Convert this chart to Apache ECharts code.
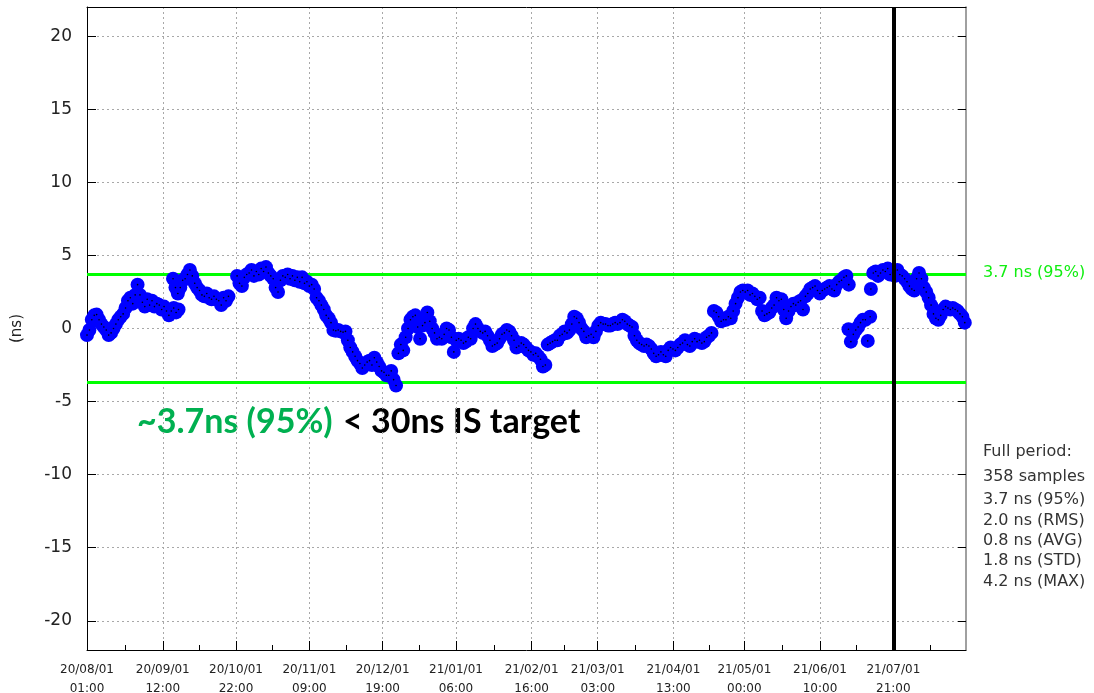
<!DOCTYPE html>
<html>
<head>
<meta charset="utf-8">
<script src="https://cdn.jsdelivr.net/npm/echarts@6/dist/echarts.min.js"></script>
<style>html,body{margin:0;padding:0;background:#fff}#c{width:1094px;height:693px}</style>
</head>
<body>
<div id="c"></div>
<script>
// ---- data (values in ns) ----
const X_MIN = Date.UTC(2020, 7, 1, 1);
const X_MAX = Date.UTC(2021, 7, 1, 1);
const DAY_MS = 86400000;
const tickTimes = ['2020-08-01T01:00Z','2020-09-01T12:00Z','2020-10-01T22:00Z','2020-11-01T09:00Z','2020-12-01T19:00Z','2021-01-01T06:00Z','2021-02-01T16:00Z','2021-03-01T03:00Z','2021-04-01T13:00Z','2021-05-01T00:00Z','2021-06-01T10:00Z','2021-07-01T21:00Z'];
const tickLabels = ['20/08/01\n01:00','20/09/01\n12:00','20/10/01\n22:00','20/11/01\n09:00','20/12/01\n19:00','21/01/01\n06:00','21/02/01\n16:00','21/03/01\n03:00','21/04/01\n13:00','21/05/01\n00:00','21/06/01\n10:00','21/07/01\n21:00'];
const yTicks = [-20, -15, -10, -5, 0, 5, 10, 15, 20];
const p95 = 3.7;
const markerTime = '2021-07-01T21:00Z';
const statLines = ['Full period:', '358 samples', '3.7 ns (95%)', '2.0 ns (RMS)', '0.8 ns (AVG)', '1.8 ns (STD)', '4.2 ns (MAX)'];

// segments of roughly daily samples: start (days after X_MIN) and values
const segStartDays = [0, 35.73, 62.32, 316.2, 325.5];
const segA = [-0.45,-0.1,0.6,0.9,0.95,0.6,0.3,0.1,-0.1,-0.45,-0.3,0.0,0.3,0.6,0.8,1.0,1.4,1.9,2.1,1.7,2.3,3.0,2.3,1.8,1.5,2.0,1.6,1.9,1.5,1.7,1.6,1.3,1.5,1.2,0.9,1.2,1.4,1.1,1.3];
const segB = [3.4,2.8,2.4,2.8,3.3,3.4,3.7,4.0,3.6,3.1,2.8,2.6,2.3,2.2,2.4,2.1,2.0,2.2,2.0,1.9,1.6,2.1,1.9,2.2];
const segC = [3.6,3.1,2.9,3.5,3.7,3.8,4.0,3.6,3.9,3.7,
4.1,3.9,4.2,3.8,3.6,3.4,2.8,2.5,3.3,3.6,
3.5,3.7,3.4,3.6,3.3,3.5,3.2,3.5,3.1,3.2,
2.9,3.0,2.7,2.1,1.9,1.6,1.3,0.9,0.7,0.4,
-0.1,-0.15,-0.1,-0.2,-0.25,-0.2,-0.8,-1.3,-1.6,-1.9,
-2.2,-2.4,-2.7,-2.5,-2.3,-2.2,-2.5,-2.0,-2.3,-2.6,
-2.9,-3.0,-3.2,-3.2,-2.9,-3.5,-3.9,-1.7,-1.1,-1.5,
-0.6,0.0,0.6,0.8,0.9,0.1,-0.7,0.2,0.4,1.1,
0.5,0.0,-0.3,-0.7,-0.6,-0.7,-0.4,0.0,-0.1,-0.6,
-1.6,-0.8,-0.7,-0.8,-1.0,-0.9,-0.6,-0.7,0.0,0.3,
0.0,-0.2,-0.3,-0.2,-0.5,-0.8,-1.2,-1.1,-1.0,-0.7,
-0.4,-0.3,-0.1,-0.2,-0.5,-0.8,-1.3,-1.2,-1.0,-1.1,
-1.3,-1.5,-1.6,-1.8,-1.7,-1.9,-2.1,-2.6,-2.5,-1.1,
-1.0,-0.9,-0.8,-0.8,-0.5,-0.4,-0.2,-0.3,-0.1,0.3,
0.8,0.7,0.4,0.0,-0.2,-0.6,-0.5,-0.4,-0.6,-0.2,
0.2,0.4,0.3,0.3,0.2,0.2,0.3,0.4,0.3,0.4,
0.6,0.5,0.3,0.2,0.1,-0.5,-0.8,-1.0,-1.1,-1.2,
-1.1,-1.2,-1.4,-1.7,-1.9,-1.8,-1.6,-1.8,-1.9,-1.5,
-1.3,-1.4,-1.5,-1.3,-1.1,-1.0,-0.8,-1.1,-1.2,-0.9,
-0.7,-0.9,-0.8,-1.0,-0.9,-0.6,-0.5,-0.3,1.2,1.1,
0.8,0.5,0.6,0.6,0.8,0.7,1.2,1.7,2.1,2.5,
2.6,2.5,2.6,2.3,2.4,2.2,2.0,2.1,1.2,0.9,
1.0,1.1,1.4,1.6,2.1,1.9,2.0,1.3,0.7,1.2,
1.5,1.7,1.6,1.8,1.9,1.3,2.2,2.4,2.7,2.8,
2.9,2.6,2.4,2.6,2.7,2.8,2.9,2.7,2.6,3.0,
3.2,3.3,3.5,3.6,3.0];
const segD = [-0.05,-0.9,-0.4,-0.1,0.1,0.4,0.6,0.6,-0.85,0.8];
const segE = [2.7,3.8,3.9,3.6,3.8,4.0,3.9,4.1,3.7,3.8,3.6,4.0,3.7,3.6,3.4,3.2,2.9,2.7,2.6,3.4,3.8,3.4,2.8,2.5,2.1,1.6,1.0,0.7,0.6,0.9,1.3,1.5,1.4,1.3,1.4,1.3,1.2,1.0,0.8,0.4];
const segments = [segA, segB, segC, segD, segE];

// ---- build chart ----
const points = [];
segments.forEach((vals, s) => {
  vals.forEach((v, i) => points.push([X_MIN + (segStartDays[s] + i) * DAY_MS, v]));
});
const majorTicks = tickTimes.map(t => Date.parse(t));
const minorTicks = majorTicks.slice(1).map((t, i) => (majorTicks[i] + t) / 2);
minorTicks.push(majorTicks[majorTicks.length - 1] + (majorTicks[majorTicks.length - 1] - majorTicks[majorTicks.length - 2]) / 2);

const FONT = 'DejaVu Sans';
const gridLine = { show: true, lineStyle: { color: '#a8a8a8', width: 1, type: [2, 3] } };

const chart = echarts.init(document.getElementById('c'), null, { renderer: 'canvas' });
chart.setOption({
  animation: false,
  backgroundColor: '#fff',
  grid: { left: 87, right: 128, top: 7, bottom: 43, containLabel: false, outerBoundsMode: 'none' },
  xAxis: [
    {
      type: 'value', min: X_MIN, max: X_MAX, position: 'bottom',
      axisLine: { show: true, onZero: false, lineStyle: { color: '#000', width: 1 } },
      axisTick: { show: true, inside: true, length: 9, customValues: majorTicks, lineStyle: { color: '#000' } },
      axisLabel: {
        show: true, customValues: majorTicks, margin: 10,
        fontFamily: FONT, fontSize: 12, color: '#222', lineHeight: 19,
        formatter: v => { const i = majorTicks.indexOf(v); return i >= 0 ? tickLabels[i] : ''; }
      },
      splitLine: gridLine
    },
    {
      type: 'value', min: X_MIN, max: X_MAX, position: 'bottom',
      axisLine: { show: false, onZero: false },
      axisTick: { show: true, inside: true, length: 5, customValues: minorTicks, lineStyle: { color: '#000' } },
      axisLabel: { show: false }, splitLine: { show: false }
    },
    {
      type: 'value', min: X_MIN, max: X_MAX, position: 'top',
      axisLine: { show: true, onZero: false, lineStyle: { color: '#000', width: 1 } },
      axisTick: { show: false },
      axisLabel: { show: false }, splitLine: { show: false }
    }
  ],
  yAxis: [
    {
      type: 'value', min: -22, max: 22, position: 'left',
      name: '(ns)', nameLocation: 'middle', nameRotate: 90, nameGap: 62,
      nameTextStyle: { fontFamily: FONT, fontSize: 15, color: '#222' },
      axisLine: { show: true, onZero: false, lineStyle: { color: '#000', width: 1 } },
      axisTick: { show: true, inside: true, length: 9, customValues: yTicks, lineStyle: { color: '#000' } },
      axisLabel: { show: true, customValues: yTicks, margin: 15, fontFamily: FONT, fontSize: 17, color: '#222' },
      splitLine: gridLine
    },
    {
      type: 'value', min: -22, max: 22, position: 'right',
      axisLine: { show: true, onZero: false, lineStyle: { color: '#808080', width: 1.5 } },
      axisTick: { show: true, inside: true, length: 8, customValues: yTicks, lineStyle: { color: '#000' } },
      axisLabel: { show: false }, splitLine: { show: false }
    }
  ],
  series: [
    {
      type: 'line', z: 1, symbol: 'none', silent: true,
      data: [[X_MIN, p95], [X_MAX, p95]],
      lineStyle: { color: '#00ff00', width: 3 }
    },
    {
      type: 'line', z: 1, symbol: 'none', silent: true,
      data: [[X_MIN, -p95], [X_MAX, -p95]],
      lineStyle: { color: '#00ff00', width: 3 }
    },
    {
      type: 'scatter', z: 2, data: points, symbol: 'circle', symbolSize: 14,
      itemStyle: { color: '#0000ff', opacity: 1 }, silent: true
    },
    {
      type: 'scatter', z: 3, data: points, symbol: 'circle', symbolSize: 1.6,
      itemStyle: { color: '#000', opacity: 1 }, silent: true,
      markLine: {
        silent: true, symbol: ['none', 'none'], label: { show: false },
        lineStyle: { color: '#000', width: 4, type: 'solid', opacity: 1 },
        data: [{ xAxis: Date.parse(markerTime) }]
      }
    }
  ],
  graphic: [
    { type: 'text', left: 983, top: 265, silent: true,
      style: { text: p95.toFixed(1) + ' ns (95%)', fill: '#11ee11', font: '16px "DejaVu Sans"' } },
    { type: 'text', left: 983, top: 444, silent: true,
      style: { text: statLines[0], fill: '#333', font: '16px "DejaVu Sans"' } },
    { type: 'text', left: 983, top: 469, silent: true,
      style: { text: statLines[1], fill: '#333', font: '16px "DejaVu Sans"' } },
    { type: 'text', left: 983, top: 490, silent: true,
      style: { text: statLines.slice(2).join('\n'), fill: '#333', font: '16px "DejaVu Sans"', lineHeight: 20.3 } },
    { type: 'text', left: 137, top: 405, silent: true,
      style: { text: '~3.7ns (95%)', fill: '#00b050', font: 'bold 34px Lato' } },
    { type: 'text', left: 343, top: 405, silent: true,
      style: { text: '< 30ns IS target', fill: '#000', font: 'bold 34px Lato' } }
  ]
});
</script>
</body>
</html>
